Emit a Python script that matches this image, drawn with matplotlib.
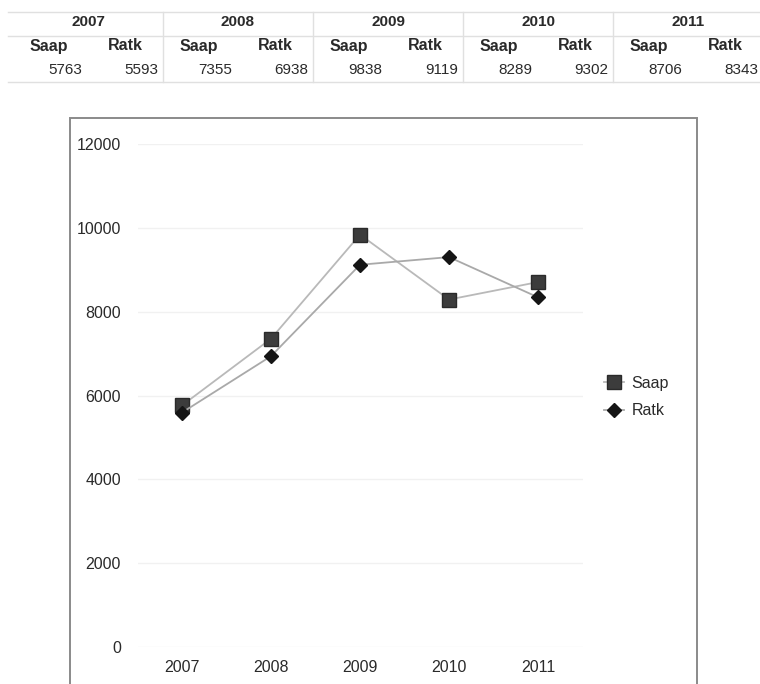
import matplotlib
matplotlib.use("Agg")
import matplotlib.pyplot as plt
from matplotlib.patches import Rectangle
from matplotlib.lines import Line2D

plt.rcParams['font.family'] = ['Liberation Sans', 'DejaVu Sans']

# Data
years = ['2007', '2008', '2009', '2010', '2011']
year_headers = ['2007', '2008', '2009', '2010', '2011']
saap = [5763, 7355, 9838, 8289, 8706]
ratk = [5593, 6938, 9119, 9302, 8343]
series_names = ['Saap', 'Ratk']
y_ticks = [0, 2000, 4000, 6000, 8000, 10000, 12000]

W, H = 760, 684
fig = plt.figure(figsize=(W / 100, H / 100), dpi=100)
fig.patch.set_facecolor('white')

def fx(px):
    return px / W

def fy(py):
    return 1 - py / H

text_col = '#2a2a2a'
rule_col = '#e0e0e0'

# ---- summary table above the chart ----
grp_start, grp_w = 13, 150
row_year, row_name, row_val = 22, 46, 70
for ln_y in (12, 36, 82):
    fig.add_artist(Line2D([fx(8), fx(W)], [fy(ln_y), fy(ln_y)], color=rule_col, lw=1.0))
for k in range(1, len(years)):
    xb = grp_start + k * grp_w
    fig.add_artist(Line2D([fx(xb), fx(xb)], [fy(12), fy(82)], color=rule_col, lw=1.0))

for i, yr in enumerate(year_headers):
    x0 = grp_start + i * grp_w
    fig.text(fx(x0 + 75), fy(row_year), yr, ha='center', va='center',
             fontsize=11, fontweight='bold', color=text_col)
    fig.text(fx(x0 + 17), fy(row_name), series_names[0], ha='left', va='center',
             fontsize=11.5, fontweight='bold', color=text_col)
    fig.text(fx(x0 + 95), fy(row_name), series_names[1], ha='left', va='center',
             fontsize=11.5, fontweight='bold', color=text_col)
    fig.text(fx(x0 + 69), fy(row_val), f'{saap[i]}', ha='right', va='center',
             fontsize=11, color=text_col)
    fig.text(fx(x0 + 145), fy(row_val), f'{ratk[i]}', ha='right', va='center',
             fontsize=11, color=text_col)

# ---- chart area border ----
fig.add_artist(Rectangle((fx(70), fy(H + 5)), fx(697) - fx(70), fy(118) - fy(H + 5),
                         fill=False, edgecolor='#8a8a8a', lw=1.4))

# ---- line chart ----
ax_left, ax_right = 137.5, 582.5
ax_top, ax_bottom = 144, 647
ax = fig.add_axes([fx(ax_left), fy(ax_bottom), fx(ax_right) - fx(ax_left),
                   fy(ax_top) - fy(ax_bottom)])
ax.set_facecolor('none')
x = list(range(len(years)))

ax.plot(x, saap, color='#b9b9b9', lw=1.3, marker='s', markersize=10,
        markerfacecolor='#3c3c3c', markeredgecolor='#2a2a2a', label=series_names[0], zorder=3)
ax.plot(x, ratk, color='#a9a9a9', lw=1.3, marker='D', markersize=7,
        markerfacecolor='#151515', markeredgecolor='#151515', label=series_names[1], zorder=4)

ax.set_xlim(-0.5, len(years) - 0.5)
ax.set_ylim(0, 12000)
ax.set_yticks(y_ticks)
ax.set_yticklabels([str(v) for v in y_ticks])
ax.set_xticks(x)
ax.set_xticklabels(years)
ax.yaxis.grid(True, color='#f1f1f1', lw=1.0)
ax.set_axisbelow(True)
for s in ax.spines.values():
    s.set_visible(False)
ax.tick_params(axis='both', length=0, labelsize=11.5, labelcolor=text_col)
ax.tick_params(axis='y', pad=12)
ax.tick_params(axis='x', pad=9)

ax.legend(loc='center left', bbox_to_anchor=(fx(590), fy(397)),
          bbox_transform=fig.transFigure, frameon=False, fontsize=11.5,
          handlelength=1.2, handletextpad=0.5, labelspacing=0.8,
          labelcolor=text_col)

fig.savefig('out.png', dpi=100)
